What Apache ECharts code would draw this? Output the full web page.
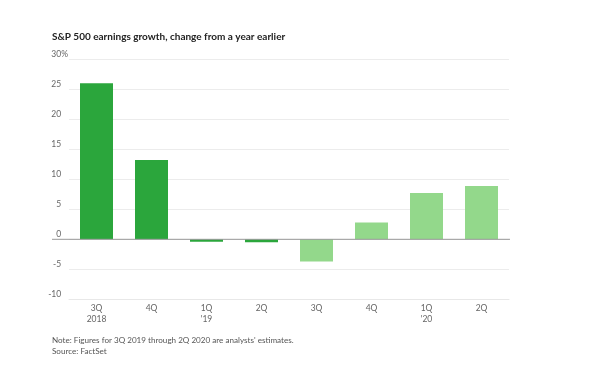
<!DOCTYPE html>
<html>
<head>
<meta charset="utf-8">
<script src="https://cdn.jsdelivr.net/npm/echarts@6/dist/echarts.min.js"></script>
<style>
html,body{margin:0;padding:0;background:#fff;}
#c{width:597px;height:365px;}
</style>
</head>
<body>
<div id="c"></div>
<script>
const quarters = ['3Q', '4Q', '1Q', '2Q', '3Q', '4Q', '1Q', '2Q'];
const years = ['2018', '', "'19", '', '', '', "'20", ''];
const actualGrowth = [26.0, 13.2, -0.4, -0.5, null, null, null, null];
const estimatedGrowth = [null, null, null, null, -3.7, 2.8, 7.7, 8.9];
const yTicks = { min: -10, max: 30, interval: 5 };
const titleText = 'S&P 500 earnings growth, change from a year earlier';
const noteText = "Note: Figures for 3Q 2019 through 2Q 2020 are analysts' estimates.";
const sourceText = 'Source: FactSet';

const categories = quarters.map((q, i) => years[i] ? q + '\n' + years[i] : q);

const FONT = 'Lato, "Open Sans", sans-serif';
const GRID = { left: 69, right: 88, top: 59.3, bottom: 65.7 };

const chart = echarts.init(document.getElementById('c'), null, { renderer: 'canvas' });
chart.setOption({
  backgroundColor: '#fff',
  animation: false,
  textStyle: { fontFamily: FONT },
  grid: GRID,
  title: [
    { text: titleText, left: 47, top: 27,
      textStyle: { fontFamily: FONT, fontSize: 10, fontWeight: 'bold', color: '#222' } },
    { text: noteText + '\n' + sourceText, left: 47, top: 330,
      textStyle: { fontFamily: FONT, fontSize: 8.1, fontWeight: 'normal', color: '#555', lineHeight: 11 } }
  ],
  xAxis: {
    type: 'category',
    data: categories,
    axisLine: { onZero: false, lineStyle: { color: '#e8e8e8', width: 1 } },
    axisTick: { alignWithLabel: true, length: 3, lineStyle: { color: '#999' } },
    axisLabel: { fontFamily: FONT, fontSize: 8.5, color: '#666', margin: 4, lineHeight: 10.5 },
    splitLine: { show: false }
  },
  yAxis: {
    type: 'value',
    min: yTicks.min, max: yTicks.max, interval: yTicks.interval,
    axisLine: { show: false },
    axisTick: { show: false },
    splitLine: { lineStyle: { color: '#ececec', width: 1 } },
    axisLabel: {
      fontFamily: FONT, fontSize: 8.5, color: '#666', margin: 1,
      align: 'right', verticalAlign: 'bottom', padding: [0, 0, 1, 0],
      formatter: v => v === yTicks.max ? v + '%' : v + '{h|%}',
      rich: { h: { color: 'rgba(0,0,0,0)', fontFamily: FONT, fontSize: 8.5 } }
    }
  },
  series: [
    { name: 'Actual', type: 'bar', data: actualGrowth, barWidth: '60%', barGap: '-100%',
      itemStyle: { color: '#2ba63c' } },
    { name: 'Estimate', type: 'bar', data: estimatedGrowth, barWidth: '60%', barGap: '-100%',
      itemStyle: { color: '#93d88b' } }
  ]
});

// Zero baseline, extending slightly past the left of the plot like the original
const y0 = chart.convertToPixel({ yAxisIndex: 0 }, 0);
chart.setOption({
  graphic: [{
    type: 'line', z: 100,
    shape: { x1: 52, y1: y0, x2: 597 - GRID.right + 1, y2: y0 },
    style: { stroke: '#999', lineWidth: 1 }
  }]
});
</script>
</body>
</html>
